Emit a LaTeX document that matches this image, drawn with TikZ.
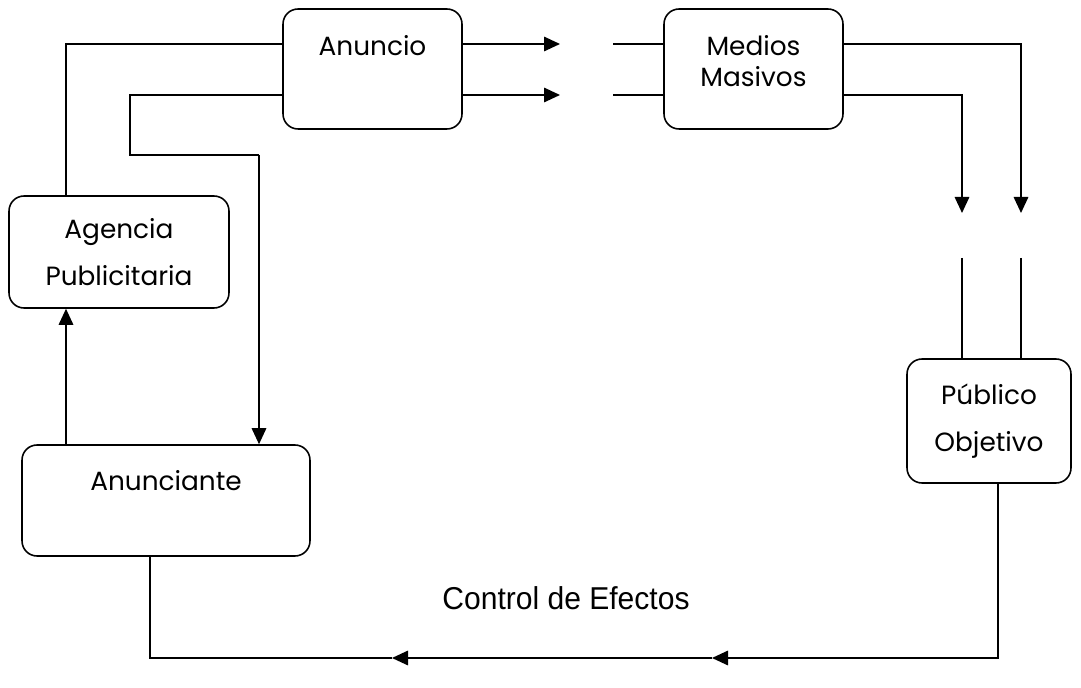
\documentclass[tikz,border=0pt]{standalone}
\usepackage{fontspec}
\usepackage{tikz}
\usetikzlibrary{arrows.meta}
\setmainfont{Poppins}
\newfontfamily\arialfont{Liberation Sans}

\begin{document}
\begin{tikzpicture}[x=0.02cm, y=-0.02cm]
    % Define styles
    \tikzstyle{box} = [rectangle, rounded corners=0.3cm, draw=black, line width=0.9pt, inner sep=0pt, text centered, align=center, font=\fontsize{15}{27}\selectfont]
    \tikzstyle{boxtext} = [inner sep=0pt, align=center, font=\fontsize{15}{18}\selectfont]
    \tikzstyle{line} = [line width=0.9pt, color=black]
    \tikzstyle{arrow} = [line, -{Triangle[length=0.32cm, width=0.29cm]}]

    \useasboundingbox (0,0) rectangle (1081,688);

    % Nodes
    \node [box, minimum width=3.58cm, minimum height=2.4cm] (anuncio) at (372.5,69) {Anuncio\\\mbox{}};
    \node [box, minimum width=3.58cm, minimum height=2.4cm] (medios) at (753.5,69) {};
    \node [boxtext] (mediostext) at (753.5,61) {Medios\\Masivos};
    \node [box, minimum width=4.4cm, minimum height=2.24cm] (agencia) at (119,252) {Agencia\\Publicitaria};
    \node [box, minimum width=5.76cm, minimum height=2.22cm, font=\fontsize{15}{23}\selectfont] (anunciante) at (166,500.5) {Anunciante\\\mbox{}};
    \node [box, minimum width=3.28cm, minimum height=2.48cm] (publico) at (989,421) {Público\\Objetivo};
    \node [font=\arialfont\fontsize{18}{21}\selectfont, xscale=0.95] (ctrl) at (566,598) {Control de Efectos};

    % Corner points
    \coordinate (tl) at (66,44);
    \coordinate (lo) at (130,95);
    \coordinate (ld) at (259,155);
    \coordinate (ga) at (560,44);
    \coordinate (gb) at (560,95);
    \coordinate (ha) at (613,44);
    \coordinate (hb) at (613,95);
    \coordinate (ra) at (1021,213);
    \coordinate (rb) at (962,213);
    \coordinate (sa) at (1021,258);
    \coordinate (sb) at (962,258);
    \coordinate (br) at (998,658);
    \coordinate (m1) at (712,658);
    \coordinate (m2) at (392,658);
    \coordinate (bl) at (150,658);

    % Arrows
    \draw [line] (agencia.north -| tl) -- (tl) -- (anuncio.west |- tl);
    \draw [arrow] (anunciante.north -| tl) -- (agencia.south -| tl);
    \draw [line] (anuncio.west |- lo) -- (lo) -- (lo |- ld) -- (ld);
    \draw [arrow] (ld) -- (anunciante.north -| ld);
    \draw [arrow] (anuncio.east |- ga) -- (ga);
    \draw [arrow] (anuncio.east |- gb) -- (gb);
    \draw [line] (ha) -- (medios.west |- ha);
    \draw [line] (hb) -- (medios.west |- hb);
    \draw [arrow] (medios.east |- ha) -| (ra);
    \draw [arrow] (medios.east |- hb) -| (rb);
    \draw [line] (sa) -- (publico.north -| sa);
    \draw [line] (sb) -- (publico.north -| sb);
    \draw [arrow] (publico.south -| br) -- (br) -- (m1);
    \draw [arrow] (m1) -- (m2);
    \draw [line] (m2) -- (bl) -- (anunciante.south -| bl);
\end{tikzpicture}
\end{document}
